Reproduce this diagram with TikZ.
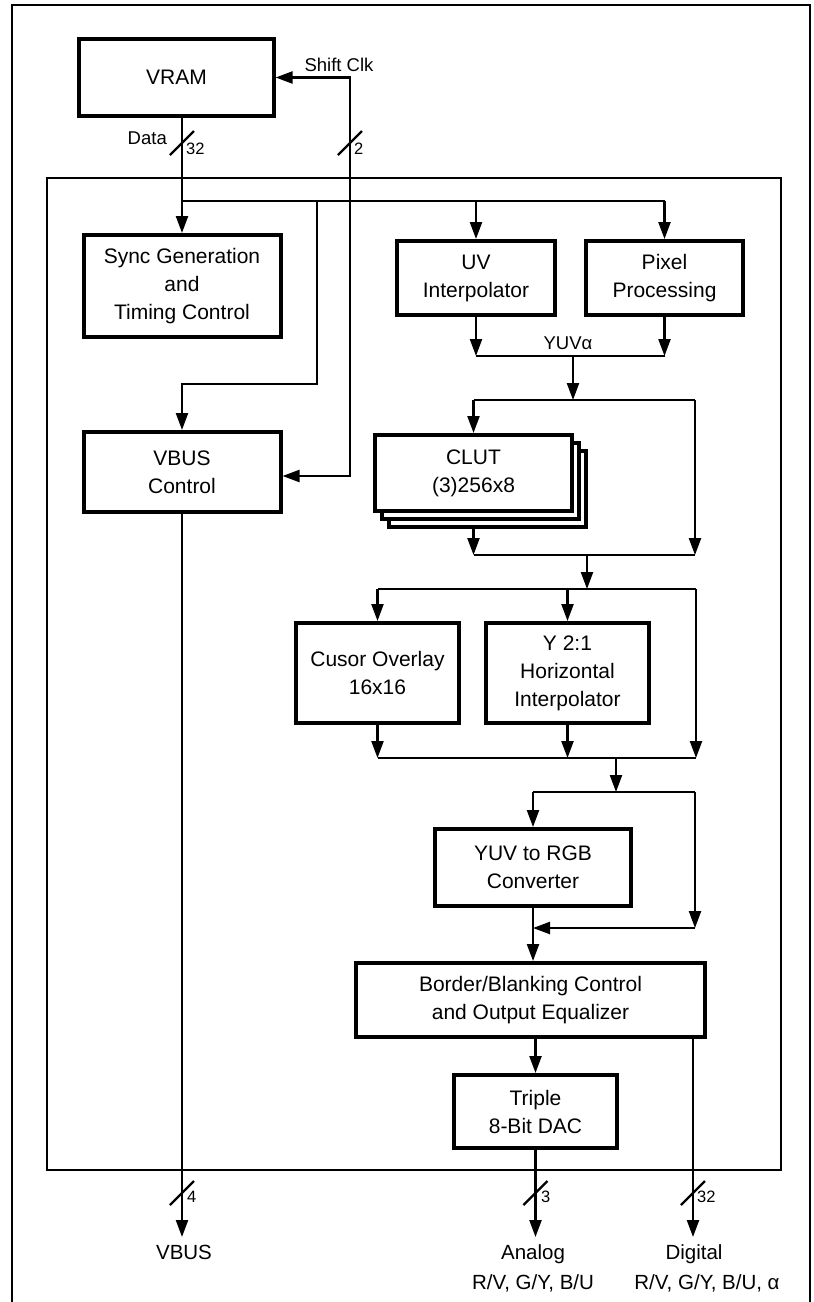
\documentclass[tikz,border=0pt]{standalone}
\usepackage{fontspec}
\setmainfont{Liberation Sans}
\usetikzlibrary{arrows.meta}

\begin{document}
\begin{tikzpicture}[
        x=1pt, y=-1pt,
        box/.style={
          draw,
          line width=4pt,
          fill=white,
          align=center,
          inner sep=0pt,
          font=\fontsize{21}{28}\selectfont
        },
        wire/.style={line width=2.3pt},
        arrow/.style={
          -{Triangle[length=17pt,width=12pt]},
          line width=2.3pt
        },
        darrow/.style={
          {Triangle[length=17pt,width=12pt]}-{Triangle[length=17pt,width=12pt]},
          line width=2.3pt
        },
        lbl/.style={inner sep=0pt, font=\fontsize{18.5}{22}\selectfont},
        outlbl/.style={inner sep=0pt, anchor=base, font=\fontsize{20.5}{24}\selectfont},
        wlbl/.style={inner sep=0pt, anchor=west, font=\fontsize{16.5}{18}\selectfont}
      ]

      \useasboundingbox (0,0) rectangle (814,1302);
      \draw[line width=1.8pt] (12,1302) -- (12,5) -- (810,5) -- (810,1302);
      \draw[line width=2.8pt] (47,178) rectangle (781,1170);

      \node[box, line width=3.2pt, minimum width=195pt, minimum height=77pt] (vram) at (176.5,77.5) {VRAM};
      \node[box, minimum width=197pt, minimum height=102pt] (sync) at (182,286) {Sync Generation\\and\\Timing Control};
      \node[box, minimum width=158pt, minimum height=74pt] (uv) at (476,278) {UV\\Interpolator};
      \node[box, minimum width=157pt, minimum height=74pt] (pix) at (664.5,278) {Pixel\\Processing};
      \node[box, minimum width=197pt, minimum height=80pt] (vbusctl) at (182,472) {VBUS\\Control};
      \node[box, line width=3.2pt, minimum width=197pt, minimum height=76pt] (clutc) at (487.5,489) {};
      \node[box, line width=3.2pt, minimum width=197pt, minimum height=76pt] (clutb) at (480.5,481) {};
      \node[box, minimum width=197pt, minimum height=76pt] (clut) at (473.5,473) {CLUT\\(3)256x8};
      \node[box, minimum width=163pt, minimum height=100pt] (cursor) at (377.5,673) {Cusor Overlay\\16x16};
      \node[box, minimum width=163pt, minimum height=100pt] (yinterp) at (567.5,673) {Y 2:1\\Horizontal\\Interpolator};
      \node[box, minimum width=196pt, minimum height=77pt] (yuvrgb) at (533,867.5) {YUV to RGB\\Converter};
      \node[box, minimum width=349pt, minimum height=74pt] (border) at (530.5,1000) {Border/Blanking Control\\and Output Equalizer};
      \node[box, minimum width=163pt, minimum height=73pt] (dac) at (535.5,1111.5) {Triple\\8-Bit DAC};

      \coordinate (busL) at (182,201);
      \coordinate (vtap) at (317,201);
      \coordinate (vturn) at (317,384);
      \coordinate (clkup) at (350,77.5);
      \coordinate (clk) at (350,476);
      \coordinate (m1) at (573,356);
      \coordinate (s1) at (573,400);
      \coordinate (r1) at (695,400);
      \coordinate (m2) at (587,555);
      \coordinate (s2) at (587,589);
      \coordinate (r2) at (696,589);
      \coordinate (m3) at (616,758);
      \coordinate (s3) at (616,792);
      \coordinate (r3) at (695,792);
      \coordinate (byp) at (695,928);
      \coordinate (vbusout) at (182,1237);
      \coordinate (anaout) at (537,1237);
      \coordinate (digout) at (693,1237);

      \draw[arrow] (vram.south -| busL) -- (sync.north);
      \draw[wire] (busL) -- (busL -| pix.north);
      \draw[arrow] (busL -| uv.north) -- (uv.north);
      \draw[arrow] (busL -| pix.north) -- (pix.north);
      \draw[arrow] (vtap) -- (vturn) -| (vbusctl.north);
      \draw[darrow] (vram.east) -- (clkup) -- (clk) -- (clk -| vbusctl.east);

      \draw[arrow] (uv.south) -- (uv.south |- m1);
      \draw[arrow] (pix.south) -- (pix.south |- m1);
      \draw[wire] (uv.south |- m1) -- (pix.south |- m1);
      \draw[arrow] (m1) -- (s1);
      \draw[wire] (s1 -| clut.north) -- (r1);
      \draw[arrow] (s1 -| clut.north) -- (clut.north);
      \draw[arrow] (r1) -- (r1 |- m2);
      \draw[arrow] (clutc.south -| clut.south) -- (clut.south |- m2);
      \draw[wire] (clut.south |- m2) -- (r1 |- m2);

      \draw[arrow] (m2) -- (s2);
      \draw[wire] (s2 -| cursor.north) -- (r2);
      \draw[arrow] (s2 -| cursor.north) -- (cursor.north);
      \draw[arrow] (s2 -| yinterp.north) -- (yinterp.north);
      \draw[arrow] (r2) -- (r2 |- m3);
      \draw[arrow] (cursor.south) -- (cursor.south |- m3);
      \draw[arrow] (yinterp.south) -- (yinterp.south |- m3);
      \draw[wire] (cursor.south |- m3) -- (r2 |- m3);

      \draw[arrow] (m3) -- (s3);
      \draw[wire] (s3 -| yuvrgb.north) -- (r3);
      \draw[arrow] (s3 -| yuvrgb.north) -- (yuvrgb.north);
      \draw[arrow] (r3) -- (byp);
      \draw[arrow] (byp) -- (byp -| yuvrgb.south);
      \draw[arrow] (yuvrgb.south) -- (yuvrgb.south |- border.north);
      \draw[arrow] (border.south -| dac.north) -- (dac.north);
      \draw[arrow] (dac.south) -- (dac.south |- anaout);
      \draw[arrow] (vbusctl.south) -- (vbusout);
      \draw[arrow] (border.south -| digout) -- (digout);

      \draw[wire] (182,143) ++(-12,12) -- ++(24,-24);
      \draw[wire] (350,143) ++(-12,12) -- ++(24,-24);
      \draw[wire] (182,1193) ++(-12,12) -- ++(24,-24);
      \draw[wire] (dac.south |- 0,1193) ++(-12,12) -- ++(24,-24);
      \draw[wire] (693,1193) ++(-12,12) -- ++(24,-24);

      \node[lbl, anchor=east] (datalbl) at (167,138) {Data};
      \node[wlbl] (w32a) at (186,149) {32};
      \node[lbl] (clklbl) at (339,65) {Shift Clk};
      \node[wlbl] (w2) at (354,149) {2};
      \node[lbl] (yuvlbl) at (568,343) {YUVα};
      \node[wlbl] (w4) at (187,1197) {4};
      \node[wlbl] (w3) at (541,1197) {3};
      \node[wlbl] (w32b) at (697,1197) {32};
      \node[outlbl] (vbuslbl) at (184,1259) {VBUS};
      \node[outlbl] (analbl) at (533,1259) {Analog};
      \node[outlbl] (anasig) at (533,1289) {R/V, G/Y, B/U};
      \node[outlbl] (diglbl) at (694,1259) {Digital};
      \node[outlbl] (digsig) at (707,1289) {R/V, G/Y, B/U, α};

      \end{tikzpicture}
\end{document}
